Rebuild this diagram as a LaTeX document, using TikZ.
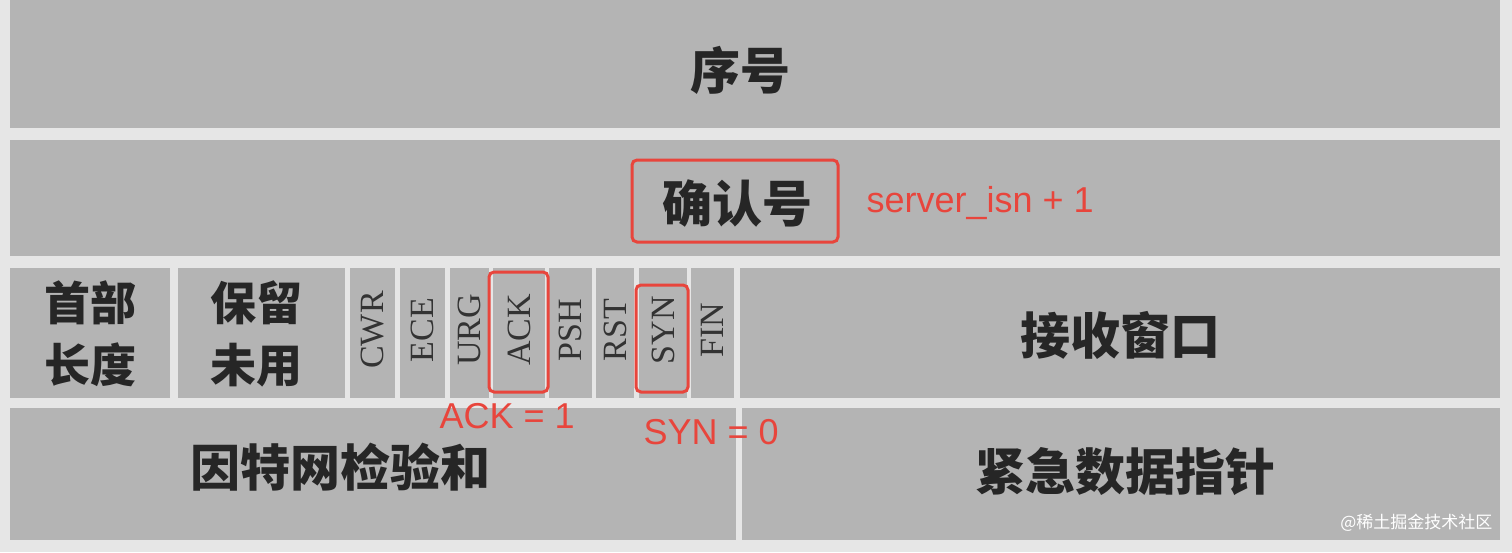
\documentclass[tikz,border=0pt]{standalone}
\usepackage{fontspec}
\setmainfont{Liberation Serif}
\newfontfamily\cjk{Noto Sans CJK SC}
\newfontfamily\redf{Liberation Sans}
\definecolor{cellg}{HTML}{B4B4B4}
\definecolor{gapg}{HTML}{E6E6E6}
\definecolor{redc}{HTML}{E8453C}
\tikzset{
 cell/.style={fill=cellg,draw=none},
 cn/.style={font=\cjk\bfseries\fontsize{50}{58}\selectfont,text=black!85,align=center},
 flag/.style={font=\fontsize{34}{36}\selectfont,text=black!80,rotate=90},
 redbox/.style={draw=redc,line width=3pt,rounded corners=5pt},
 redtxt/.style={font=\redf\fontsize{36}{40}\selectfont,text=redc,anchor=west}
}
\begin{document}
\begin{tikzpicture}[x=1pt,y=-1pt]
\fill[gapg] (0,0) rectangle (1512,552);
\useasboundingbox (0,0) rectangle (1512,552);
% row 1
\fill[cell] (10,0) rectangle (1500,128);
\node[cn] (seq) at (740,70) {序号};
% row 2
\fill[cell] (10,140) rectangle (1500,256);
\node[cn] (ackn) at (737,203) {确认号};
% row 3
\fill[cell] (10,268) rectangle (170,398);
\node[cn,font=\cjk\bfseries\fontsize{46}{62}\selectfont] (hl) at (90,334) {首部\\长度};
\fill[cell] (178,268) rectangle (345,398);
\node[cn,font=\cjk\bfseries\fontsize{46}{62}\selectfont] (rs) at (256,334) {保留\\未用};
\foreach \a/\b/\t in {350/395/CWR,400/445/ECE,450/489/URG,493/545/ACK,549/592/PSH,596/634/RST,639/687/SYN,691/734/FIN}{
  \fill[cell] (\a,268) rectangle (\b,398);
  \node[flag] (f\t) at ({(\a+\b)/2},330) {\t};
}
\fill[cell] (740,268) rectangle (1500,398);
\node[cn] (win) at (1120,335) {接收窗口};
% row 4
\fill[cell] (10,408) rectangle (736,540);
\node[cn] (cks) at (340,467) {因特网检验和};
\fill[cell] (742,408) rectangle (1500,540);
\node[cn] (urg) at (1125,472) {紧急数据指针};
% red annotations
\draw[redbox] (632,160) rectangle (838,242);
\draw[redbox] (489,272) rectangle (548,392);
\draw[redbox] (636,285) rectangle (688,392);
\node[redtxt] (t1) at (863,203) {server\_isn + 1};
\node[redtxt] (t2) at (436,416) {ACK = 1};
\node[redtxt] (t3) at (640,432) {SYN = 0};
\node[font=\cjk\fontsize{17}{20}\selectfont,text=white,anchor=east] (wm) at (1496,523) {@稀土掘金技术社区};
\end{tikzpicture}
\end{document}
